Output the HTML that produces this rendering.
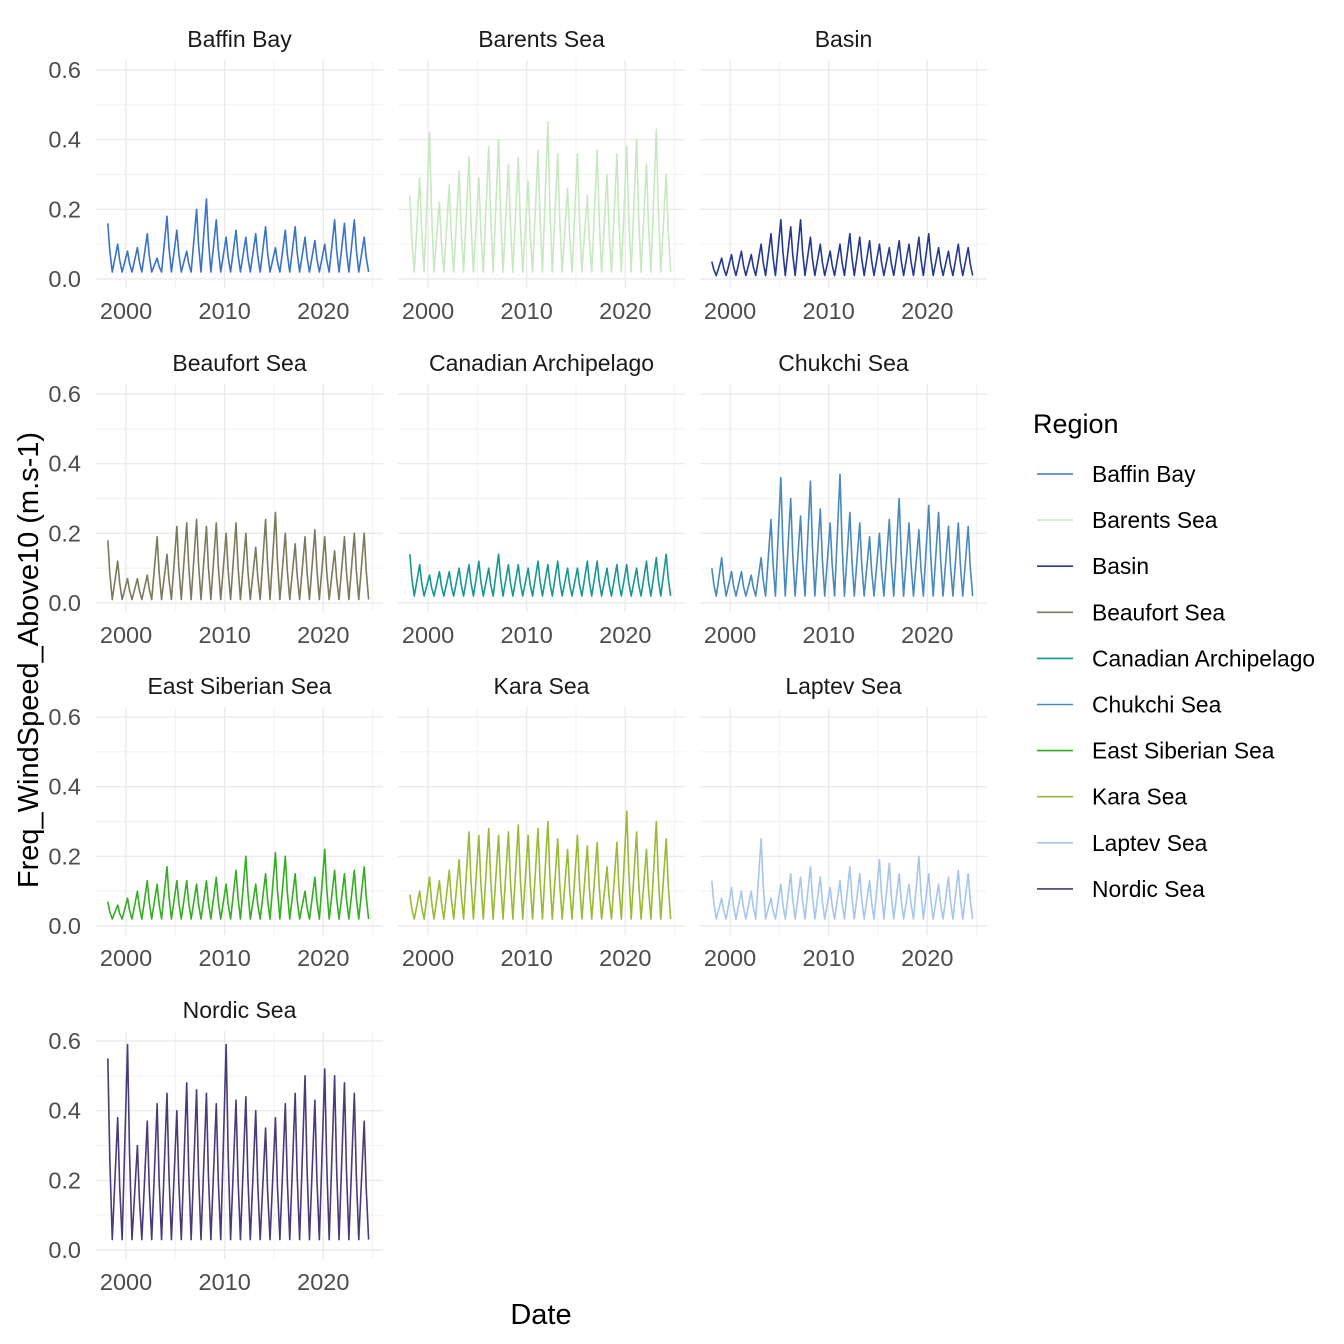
<!DOCTYPE html>
<html><head><meta charset="utf-8"><style>body{margin:0;background:#fff}svg{display:block;font-family:"Liberation Sans",sans-serif}</style></head>
<body>
<svg id="chart" width="1344" height="1344" xmlns="http://www.w3.org/2000/svg"></svg>
<script>
const regions=["Baffin Bay","Barents Sea","Basin","Beaufort Sea","Canadian Archipelago","Chukchi Sea","East Siberian Sea","Kara Sea","Laptev Sea","Nordic Sea"];
const colors=["#3a72c6","#c7e9c0","#253a8f","#7b7b5c","#17988f","#4a89bb","#33ad22","#98ba35","#a6c6ea","#4b3a7a"];
const years=[1998,1999,2000,2001,2002,2003,2004,2005,2006,2007,2008,2009,2010,2011,2012,2013,2014,2015,2016,2017,2018,2019,2020,2021,2022,2023,2024];
const peaksBaffin=[0.16,0.10,0.08,0.09,0.13,0.06,0.18,0.14,0.08,0.20,0.23,0.17,0.12,0.14,0.12,0.13,0.15,0.09,0.14,0.15,0.12,0.11,0.10,0.17,0.16,0.17,0.12];
const peaksBarents=[0.24,0.29,0.42,0.22,0.27,0.31,0.35,0.29,0.38,0.40,0.33,0.35,0.28,0.37,0.45,0.36,0.26,0.36,0.24,0.37,0.30,0.36,0.38,0.40,0.33,0.43,0.30];
const peaksBasin=[0.05,0.06,0.07,0.08,0.07,0.10,0.13,0.17,0.15,0.17,0.12,0.10,0.08,0.10,0.13,0.12,0.11,0.10,0.09,0.11,0.10,0.12,0.13,0.09,0.08,0.10,0.09];
const peaksBeaufort=[0.18,0.12,0.07,0.07,0.08,0.19,0.14,0.22,0.23,0.24,0.22,0.23,0.20,0.23,0.20,0.16,0.24,0.26,0.20,0.17,0.19,0.21,0.19,0.15,0.19,0.20,0.20];
const peaksCanadian=[0.14,0.11,0.08,0.09,0.09,0.10,0.11,0.12,0.10,0.14,0.11,0.11,0.10,0.12,0.11,0.12,0.10,0.10,0.12,0.12,0.10,0.11,0.11,0.10,0.12,0.13,0.14];
const peaksChukchi=[0.10,0.13,0.09,0.09,0.08,0.13,0.24,0.36,0.30,0.25,0.35,0.27,0.23,0.37,0.26,0.23,0.19,0.20,0.24,0.30,0.23,0.21,0.28,0.26,0.22,0.23,0.22];
const peaksEastSib=[0.07,0.06,0.08,0.10,0.13,0.12,0.17,0.13,0.13,0.12,0.13,0.14,0.12,0.16,0.20,0.12,0.15,0.21,0.20,0.15,0.10,0.14,0.22,0.16,0.15,0.16,0.17];
const peaksKara=[0.09,0.10,0.14,0.13,0.16,0.19,0.27,0.26,0.28,0.26,0.27,0.29,0.26,0.28,0.30,0.25,0.22,0.26,0.23,0.24,0.17,0.24,0.33,0.27,0.22,0.30,0.25];
const peaksLaptev=[0.13,0.08,0.11,0.10,0.10,0.25,0.08,0.12,0.15,0.14,0.17,0.14,0.11,0.13,0.17,0.15,0.13,0.19,0.18,0.15,0.12,0.20,0.15,0.12,0.14,0.16,0.15];
const peaksNordic=[0.55,0.38,0.59,0.30,0.37,0.42,0.45,0.40,0.48,0.46,0.45,0.42,0.59,0.43,0.44,0.40,0.35,0.38,0.42,0.45,0.50,0.43,0.52,0.50,0.48,0.45,0.37];
const troughs=[0.02,0.02,0.01,0.01,0.02,0.02,0.02,0.02,0.02,0.03];
const allPeaks=[peaksBaffin,peaksBarents,peaksBasin,peaksBeaufort,peaksCanadian,peaksChukchi,peaksEastSib,peaksKara,peaksLaptev,peaksNordic];
const yTicks=[0,0.2,0.4,0.6];
const xTicks=[2000,2010,2020];

const svg=document.getElementById('chart');const NS="http://www.w3.org/2000/svg";
function mk(t,a,p){const e=document.createElementNS(NS,t);for(const k in a)e.setAttribute(k,a[k]);(p||svg).appendChild(e);return e;}
const colX=[96,398,700],rowY=[60,384,707,1031],PW=287,PH=228;
function xs(c,yr){return colX[c]+(yr-1996.95)*9.86;}
function ys(r,v){return rowY[r]+219-v*348.3;}
regions.forEach((name,i)=>{
  const c=i%3,r=Math.floor(i/3);
  const g=mk('g',{});
  
  
  for(let v=0.1;v<0.7;v+=0.2)mk('line',{x1:colX[c],x2:colX[c]+PW,y1:ys(r,v),y2:ys(r,v),stroke:'#f2f2f2','stroke-width':1},g);
  [2005,2015,2025].forEach(t=>mk('line',{x1:xs(c,t),x2:xs(c,t),y1:rowY[r],y2:rowY[r]+PH,stroke:'#f2f2f2','stroke-width':1},g));
  yTicks.forEach(v=>mk('line',{x1:colX[c],x2:colX[c]+PW,y1:ys(r,v),y2:ys(r,v),stroke:'#ebebeb','stroke-width':1.4},g));
  xTicks.forEach(t=>mk('line',{x1:xs(c,t),x2:xs(c,t),y1:rowY[r],y2:rowY[r]+PH,stroke:'#ebebeb','stroke-width':1.4},g));
  const tt=mk('text',{x:colX[c]+PW/2,y:rowY[r]-13,'text-anchor':'middle','font-size':23,fill:'#1a1a1a'},g);tt.textContent=name;
  
  xTicks.forEach(t=>{const e=mk('text',{x:xs(c,t),y:rowY[r]+259,'text-anchor':'middle','font-size':23.5,fill:'#4d4d4d'},g);e.textContent=t;
    });
  if(c===0)yTicks.forEach(v=>{const e=mk('text',{x:81,y:ys(r,v)+8,'text-anchor':'end','font-size':23.5,fill:'#4d4d4d'},g);e.textContent=v.toFixed(1);
    });
  let d='';const pk=allPeaks[i];
  years.forEach((yr,k)=>{
    const px=xs(c,yr+0.15),tx=xs(c,yr+0.6),mx=xs(c,yr+0.35);
    d+=(k?'L':'M')+px+','+ys(r,pk[k])+'L'+mx+','+ys(r,(pk[k]+troughs[i])*0.45)+'L'+tx+','+ys(r,troughs[i]);
  });
  const p=mk('path',{d:d,fill:'none',stroke:colors[i],'stroke-width':1.6,'stroke-linejoin':'round'},g);
  
  
});
const xt=mk('text',{x:541,y:1324,'text-anchor':'middle','font-size':29,fill:'#000'});xt.textContent='Date';

const yt=mk('text',{x:0,y:0,transform:'translate(38,660) rotate(-90)','text-anchor':'middle','font-size':29,fill:'#000'});yt.textContent='Freq_WindSpeed_Above10 (m.s-1)';

const lg=mk('g',{});


const lt=mk('text',{x:1033,y:433,'font-size':27,fill:'#000'},lg);lt.textContent='Region';

regions.forEach((n,i)=>{
  const y=474+i*46.1;
  const e=mk('g',{},lg);
  
  
  mk('line',{x1:1037,x2:1073,y1:y,y2:y,stroke:colors[i],'stroke-width':1.6},e);
  const t=mk('text',{x:1092,y:y+8,'font-size':22.8,fill:'#000'},e);t.textContent=n;
});
</script>
</body></html>
